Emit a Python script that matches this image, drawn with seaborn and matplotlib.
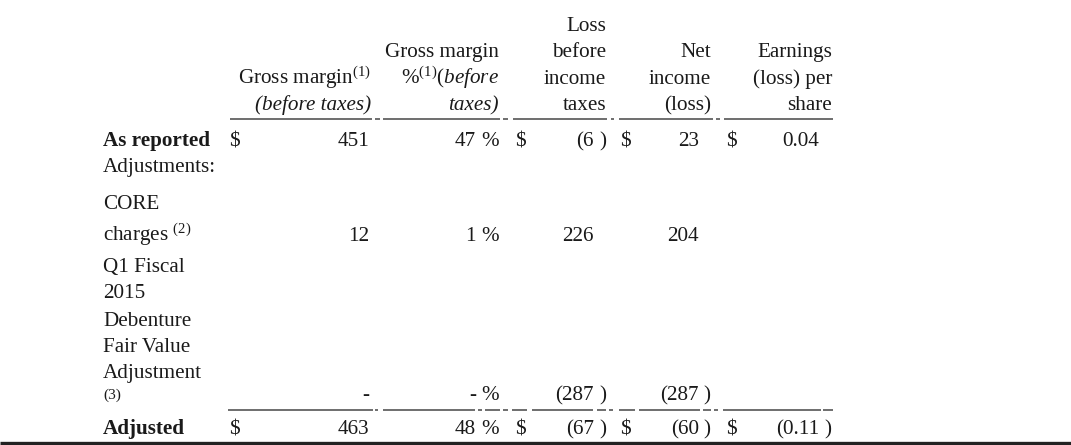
import matplotlib
matplotlib.use("Agg")
import matplotlib.pyplot as plt
import seaborn as sns

# table data
columns = ["Gross margin", "Gross margin %", "Loss before income taxes", "Net income (loss)", "Earnings (loss) per share"]
row_labels = ["As reported", "Adjustments:", "CORE charges", "Q1 Fiscal 2015 Debenture Fair Value Adjustment", "Adjusted"]
gross_margin = [451, None, 12, 0, 463]
gross_margin_pct = [47, None, 1, 0, 48]
loss_before_tax = [-6, None, 226, -287, -67]
net_income = [23, None, 204, -287, -60]
eps = [0.04, None, None, None, -0.11]
dollar_rows = [0, 4]
bold_rows = [0, 4]

sns.set_theme(style="white")
plt.rcParams["font.family"] = ["Liberation Serif", "DejaVu Serif"]
plt.rcParams["mathtext.fontset"] = "custom"
plt.rcParams["mathtext.rm"] = "Liberation Serif"
plt.rcParams["mathtext.it"] = "Liberation Serif:italic"

FS = 15.2
INK = "#1a1a1a"
RULE = "#555555"

fig = plt.figure(figsize=(10.71, 4.45), dpi=100)
ax = fig.add_axes([0, 0, 1, 1])
ax.set_xlim(0, 1071)
ax.set_ylim(445, 0)
ax.axis("off")

# header lines: (text, right edge, baseline, italic)
header = [
    ("Gross margin$^{(1)}$", 371, 84, False),
    ("(before taxes)", 371, 110, True),
    ("Gross margin", 499, 57, False),
    ("%$^{(1)}\\mathit{(before}$", 499, 84, False),
    ("taxes)", 499, 110, True),
    ("Loss", 606, 31, False),
    ("before", 606, 57, False),
    ("income", 606, 84, False),
    ("taxes", 606, 110, False),
    ("Net", 711, 57, False),
    ("income", 711, 84, False),
    ("(loss)", 711, 110, False),
    ("Earnings", 832, 57, False),
    ("(loss) per", 832, 84, False),
    ("share", 832, 110, False),
]
for txt, x, y, it in header:
    ax.text(x, y, txt, ha="right", va="baseline", fontsize=FS, color=INK,
            style="italic" if it else "normal")

# row labels
label_lines = [
    [("As reported", 146)],
    [("Adjustments:", 172)],
    [("CORE", 209), ("charges $^{(2)}$", 241)],
    [("Q1 Fiscal", 272), ("2015", 298), ("Debenture", 326), ("Fair Value", 352),
     ("Adjustment", 378), ("(3)", 399)],
    [("Adjusted", 434)],
]
row_base = [146, 172, 241, 400, 434]
for i, lines in enumerate(label_lines):
    for txt, y in lines:
        fs = 11 if txt == "(3)" else FS
        ax.text(103, y, txt, ha="left", va="baseline", fontsize=fs, color=INK,
                fontweight="bold" if i in bold_rows else "normal")

# column layout: values, decimals, dollar x, number right, suffix right, suffix
col_specs = [
    (gross_margin, 0, 229, 369, None, None),
    (gross_margin_pct, 0, None, 476, 499, "%"),
    (loss_before_tax, 0, 515, 594, 606, ")"),
    (net_income, 0, 620, 699, 710, ")"),
    (eps, 2, 726, 819, 831, ")"),
]


def fmt(v, dec):
    if v == 0:
        return "-"
    s = f"{abs(v):.{dec}f}"
    return "(" + s if v < 0 else s


for vals, dec, dx, nx, sx, suf in col_specs:
    for r, v in enumerate(vals):
        y = row_base[r]
        if dx is not None and r in dollar_rows:
            ax.text(dx, y, "$", ha="left", va="baseline", fontsize=FS, color=INK)
        if v is None:
            continue
        ax.text(nx, y, fmt(v, dec), ha="right", va="baseline", fontsize=FS, color=INK)
        if suf == "%" or (suf == ")" and v < 0):
            ax.text(sx, y, suf, ha="right", va="baseline", fontsize=FS, color=INK)

# rules
head_rule = [(230, 372), (375, 380), (383, 500), (503, 508), (513, 607), (611, 614),
             (619, 713), (716, 720), (724, 833)]
sub_rule = [(228, 373), (375, 378), (383, 475), (478, 482), (485, 500), (503, 508),
            (512, 527), (532, 593), (597, 606), (609, 613), (619, 635), (639, 700),
            (703, 711), (714, 718), (723, 821), (823, 833)]
for a, b in head_rule:
    ax.plot([a, b], [118.5, 118.5], color=RULE, lw=1.2, solid_capstyle="butt")
for a, b in sub_rule:
    ax.plot([a, b], [410, 410], color=RULE, lw=1.2, solid_capstyle="butt")
ax.plot([0, 1071], [443, 443], color="#222222", lw=2.4, solid_capstyle="butt")

fig.savefig("out.png", dpi=100, facecolor="white")
